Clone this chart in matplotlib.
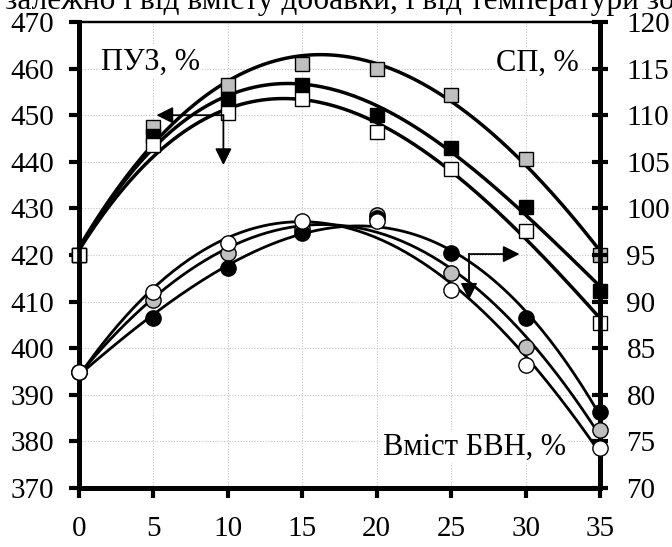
import numpy as np
import matplotlib
matplotlib.use("Agg")
import matplotlib.pyplot as plt

plt.rcParams['font.family'] = ['Liberation Serif', 'DejaVu Serif']

x = [0, 5, 10, 15, 20, 25, 30, 35]
puz_gray = [420, 447.5, 456.5, 461, 460, 454.3, 440.5, 420]
puz_black = [420, 445.5, 453.5, 456.5, 450, 443, 430.3, 412.3]
puz_white = [420, 443.5, 450.5, 453.5, 446.5, 438.5, 425.2, 405.5]

sp_gray = [82.4, 90.2, 95.2, 97.8, 99.3, 93.1, 85.1, 76.2]
sp_black = [82.4, 88.2, 93.6, 97.4, 99.0, 95.2, 88.2, 78.2]
sp_white = [82.4, 91.0, 96.3, 98.6, 98.6, 91.2, 83.2, 74.3]

x_ticks = [0, 5, 10, 15, 20, 25, 30, 35]
left_ticks = [370, 380, 390, 400, 410, 420, 430, 440, 450, 460, 470]
right_ticks = [70, 75, 80, 85, 90, 95, 100, 105, 110, 115, 120]

title = "залежно і від вмісту добавки, і від температури зони"

fig = plt.figure(figsize=(6.72, 5.47), dpi=100)
ax = fig.add_axes([79/672, 1-488/547, (600-79)/672, (488-22)/547])
ax2 = ax.twinx()

xs = np.linspace(0, 35, 200)
fills = {'gray': '#bfbfbf', 'black': 'black', 'white': 'white'}

for ys, c in [(puz_gray, 'gray'), (puz_black, 'black'), (puz_white, 'white')]:
    p = np.polyfit(x, ys, 3)
    ax.plot(xs, np.polyval(p, xs), color='black', lw=2.5, zorder=3, clip_on=False)
for ys, c in [(puz_gray, 'gray'), (puz_black, 'black'), (puz_white, 'white')]:
    ax.plot(x, ys, ls='none', marker='s', ms=10, mfc=fills[c], mec='black', mew=1.0,
            zorder=4, clip_on=False)

for ys, c in [(sp_gray, 'gray'), (sp_black, 'black'), (sp_white, 'white')]:
    p = np.polyfit(x, ys, 3)
    ax2.plot(xs, np.polyval(p, xs), color='black', lw=2.0, zorder=3, clip_on=False)
for ys, c in [(sp_gray, 'gray'), (sp_black, 'black'), (sp_white, 'white')]:
    ax2.plot(x, ys, ls='none', marker='o', ms=11, mfc=fills[c], mec='black', mew=1.0,
             zorder=4, clip_on=False)

ax.set_xlim(0, 35)
ax.set_ylim(370, 470)
ax2.set_ylim(70, 120)
ax.set_xticks(x_ticks)
ax.set_yticks(left_ticks)
ax2.set_yticks(right_ticks)

ax.grid(True, color='#c4c4c4', ls=(0, (1, 1.5)), lw=0.8)
ax.set_axisbelow(True)

for a in (ax, ax2):
    for s in ('left', 'right', 'bottom'):
        a.spines[s].set_linewidth(3.4)
    a.spines['top'].set_linewidth(1.6)
ax.tick_params(axis='both', labelsize=21, width=3, length=7, direction='out')
ax.tick_params(axis='y', pad=11)
ax.tick_params(axis='x', pad=13)
ax2.tick_params(axis='y', labelsize=21, width=3, length=12, direction='inout', pad=13)

# annotations
ax.text(4.77, 461.4, "ПУЗ, %", fontsize=22, ha='center', va='center',
        bbox=dict(fc='white', ec='none', pad=1), zorder=5)
ax.text(30.8, 461.2, "СП, %", fontsize=22, ha='center', va='center',
        bbox=dict(fc='white', ec='none', pad=1), zorder=5)
ax.text(26.6, 378.8, "Вміст БВН, %", fontsize=22, ha='center', va='center',
        bbox=dict(fc='white', ec='none', pad=1), zorder=5)

ap = dict(arrowstyle='-|>,head_length=1.0,head_width=0.5', color='black', lw=1.3,
          shrinkA=0, shrinkB=0)
ax.annotate('', xy=(5.2, 450), xytext=(9.7, 450), arrowprops=ap, zorder=6)
ax.annotate('', xy=(9.7, 439.3), xytext=(9.7, 450), arrowprops=ap, zorder=6)
ax2.annotate('', xy=(29.6, 95.1), xytext=(26.2, 95.1), arrowprops=ap, zorder=6)
ax2.annotate('', xy=(26.2, 90.2), xytext=(26.2, 95.1), arrowprops=ap, zorder=6)

# size/position the cropped top line so that it matches the reference
renderer = fig.canvas.get_renderer()
def _w(s, size):
    t = fig.text(0, 0, s, fontsize=size)
    w = t.get_window_extent(renderer).width
    t.remove()
    return w
s0 = 30
w_i = _w("і", s0)
w1 = _w("залежно і", s0) - w_i
w2 = _w("залежно і від вмісту добавки,", s0)
scale = (397 - 123) / (w2 - w1)
size = s0 * scale
x0 = 123 - w1 * scale
fig.text(x0/672, 1-9.5/547, title, fontsize=size, ha='left', va='baseline')

fig.savefig('out.png', dpi=100)
